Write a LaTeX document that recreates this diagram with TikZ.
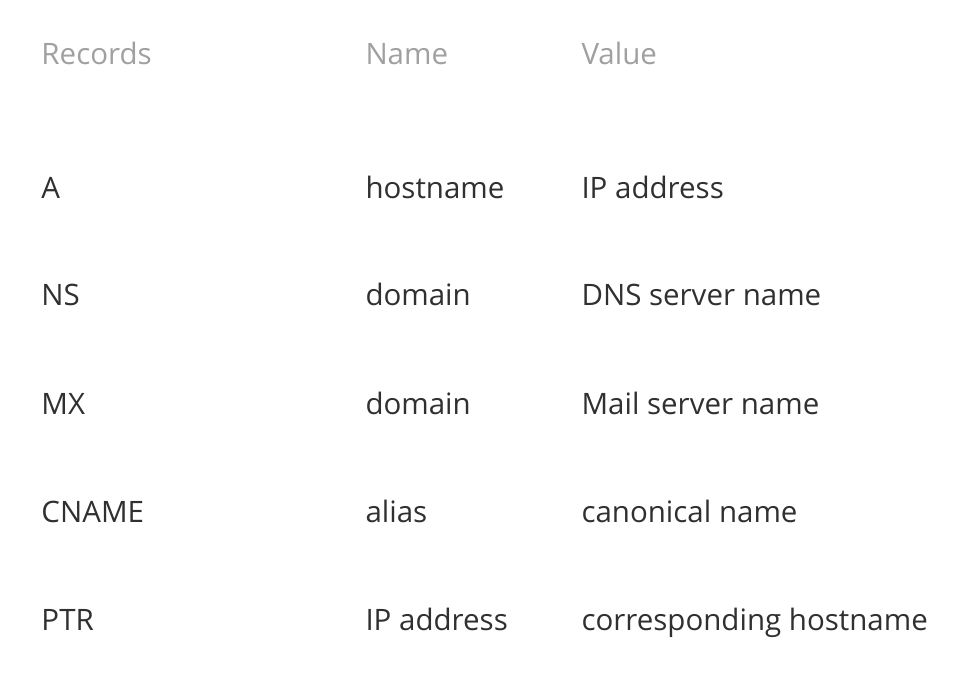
\documentclass[tikz,border=0pt]{standalone}
\usepackage{fontspec}
\setmainfont{Open Sans}
\definecolor{headgray}{HTML}{A0A0A0}
\definecolor{bodygray}{HTML}{303030}
\tikzset{
  cell/.style={anchor=base west, inner sep=0pt, outer sep=0pt, font=\fontsize{29.5}{34}\selectfont},
  head/.style={cell, text=headgray},
  body/.style={cell, text=bodygray}
}
\begin{document}
\begin{tikzpicture}[x=1pt,y=-1pt]
\useasboundingbox[fill=white] (0,0) rectangle (967,683);
\node[head] (h1) at (41.5,64) {Records};
\node[head] (h2) at (365.5,64) {Name};
\node[head] (h3) at (581.5,64) {Value};
\node[body] (r1a) at (41.5,198) {A};
\node[body] (r1b) at (365.5,198) {hostname};
\node[body] (r1c) at (581.5,198) {IP address};
\node[body] (r2a) at (41.5,305) {NS};
\node[body] (r2b) at (365.5,305) {domain};
\node[body] (r2c) at (581.5,305) {DNS server name};
\node[body] (r3a) at (41.5,414) {MX};
\node[body] (r3b) at (365.5,414) {domain};
\node[body] (r3c) at (581.5,414) {Mail server name};
\node[body] (r4a) at (41.5,522) {CNAME};
\node[body] (r4b) at (365.5,522) {alias};
\node[body] (r4c) at (581.5,522) {canonical name};
\node[body] (r5a) at (41.5,630) {PTR};
\node[body] (r5b) at (365.5,630) {IP address};
\node[body] (r5c) at (581.5,630) {corresponding hostname};
\end{tikzpicture}
\end{document}
